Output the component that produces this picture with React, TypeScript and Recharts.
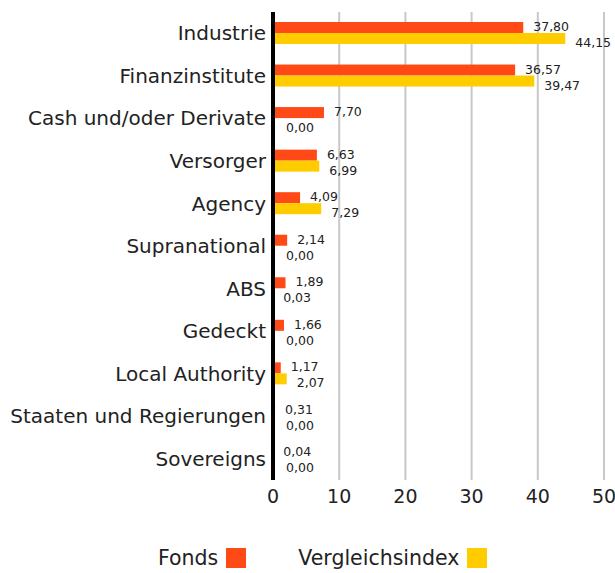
import React from 'react'
import { BarChart, Bar, XAxis, YAxis, CartesianGrid, Legend } from 'recharts'

const categories = [
  'Industrie',
  'Finanzinstitute',
  'Cash und/oder Derivate',
  'Versorger',
  'Agency',
  'Supranational',
  'ABS',
  'Gedeckt',
  'Local Authority',
  'Staaten und Regierungen',
  'Sovereigns',
]
const fonds = [37.8, 36.57, 7.7, 6.63, 4.09, 2.14, 1.89, 1.66, 1.17, 0.31, 0.04]
const vergleichsindex = [44.15, 39.47, 0.0, 6.99, 7.29, 0.0, 0.03, 0.0, 2.07, 0.0, 0.0]
const xTicks = [0, 10, 20, 30, 40, 50]

const ORANGE = '#ff4a17'
const YELLOW = '#ffcc00'
const FONT = '"DejaVu Sans", sans-serif'

const data = categories.map((name, i) => ({
  name,
  fonds: fonds[i],
  index: vergleichsindex[i],
}))

const fmt = (v: number) => v.toFixed(2).replace('.', ',')

// bar plus its value label; drawn as a shape so zero bars still get a label
const makeShape = (key: 'fonds' | 'index', color: string, dy: number) => (props: any) => {
  const { x, y, width, height, payload } = props
  const w = Math.max(0, width || 0)
  return (
    <g>
      {w > 0 && <rect x={x} y={y} width={w} height={height} fill={color} />}
      <text
        x={x + w + (w > 0 ? 10 : 13)}
        y={y + height / 2 + dy}
        dominantBaseline="central"
        fontSize={12.5}
        fontFamily={FONT}
        fill="#222"
      >
        {fmt(payload[key])}
      </text>
    </g>
  )
}

function LegendBox() {
  const item = (label: string, color: string, ml: number) => (
    <span style={{ display: 'inline-flex', alignItems: 'center', marginLeft: ml }}>
      <span style={{ fontSize: 20.5, color: '#222' }}>{label}</span>
      <span style={{ width: 20, height: 20, background: color, marginLeft: 8, display: 'inline-block' }} />
    </span>
  )
  return (
    <div style={{ height: 53, display: 'flex', alignItems: 'flex-end', paddingBottom: 3, boxSizing: 'border-box', fontFamily: FONT }}>
      {item('Fonds', ORANGE, 158)}
      {item('Vergleichsindex', YELLOW, 52)}
    </div>
  )
}

export default function App() {
  return (
    <div style={{ position: 'absolute', left: 0, top: 0, width: 615, height: 573, background: '#fff' }}>
      <BarChart
        width={615}
        height={573}
        data={data}
        layout="vertical"
        margin={{ top: 12, right: 11, left: 0, bottom: 0 }}
        barSize={11}
        barGap={0}
      >
        <CartesianGrid horizontal={false} stroke="#c8c8c8" strokeWidth={2} />
        <XAxis
          type="number"
          domain={[0, 50]}
          ticks={xTicks}
          axisLine={false}
          tickLine={false}
          height={40}
          tickMargin={4}
          tick={{ fontSize: 19, fontFamily: FONT, fill: '#222' }}
        />
        <YAxis
          type="category"
          dataKey="name"
          width={273}
          axisLine={{ stroke: '#000', strokeWidth: 4 }}
          tickLine={false}
          tickSize={0}
          tickMargin={7}
          interval={0}
          tick={{ fontSize: 20, fontFamily: FONT, fill: '#222' }}
        />
        <Legend verticalAlign="bottom" content={() => <LegendBox />} />
        <Bar
          dataKey="fonds"
          name="Fonds"
          fill={ORANGE}
          isAnimationActive={false}
          shape={makeShape('fonds', ORANGE, -1)}
        />
        <Bar
          dataKey="index"
          name="Vergleichsindex"
          fill={YELLOW}
          isAnimationActive={false}
          shape={makeShape('index', YELLOW, 4)}
        />
      </BarChart>
    </div>
  )
}
